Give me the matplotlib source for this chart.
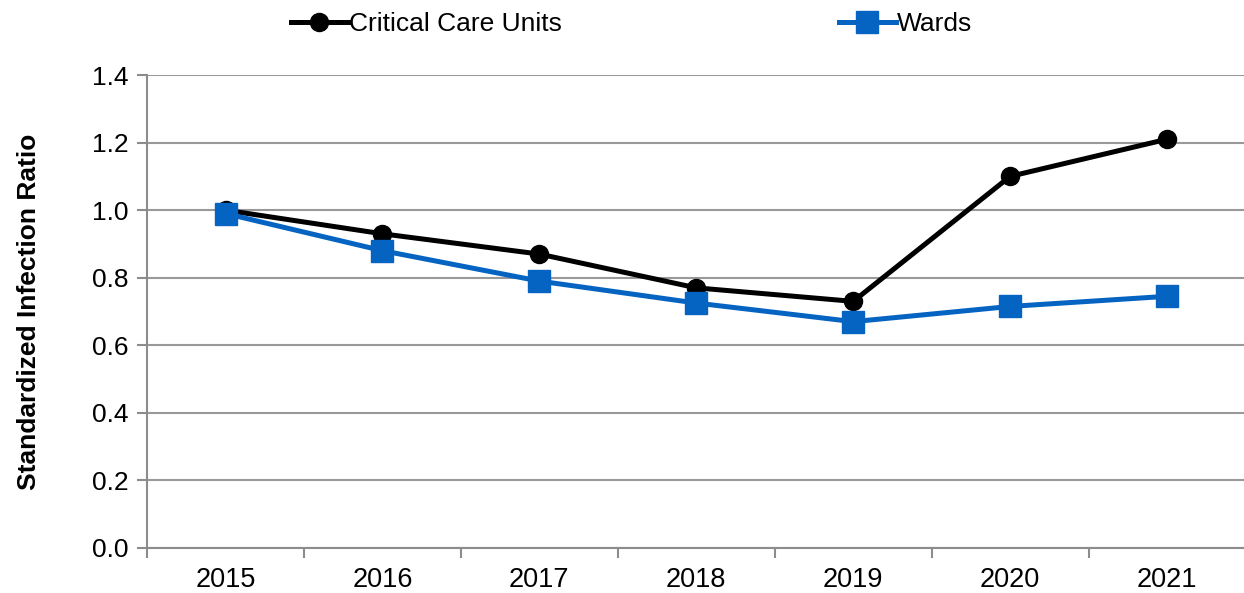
import matplotlib.pyplot as plt

plt.rcParams['font.family'] = ['Liberation Sans', 'DejaVu Sans']

years = ['2015', '2016', '2017', '2018', '2019', '2020', '2021']
critical_care = [1.00, 0.93, 0.87, 0.77, 0.73, 1.10, 1.21]
wards = [0.99, 0.88, 0.79, 0.725, 0.67, 0.715, 0.745]

fig = plt.figure(figsize=(12.44, 5.93), dpi=100)
ax = fig.add_axes([0.1182, 0.0759, 0.8818, 0.7976])

x = list(range(len(years)))
ax.plot(x, critical_care, color='black', lw=3.6, marker='o', ms=13,
        label='Critical Care Units', zorder=3)
ax.plot(x, wards, color='#0563C1', lw=3.6, marker='s', ms=15.5,
        label='Wards', zorder=3)

ax.set_xlim(-0.5, 6.49)
ax.set_ylim(0, 1.4)
ax.set_yticks([0, 0.2, 0.4, 0.6, 0.8, 1.0, 1.2, 1.4])
ax.set_yticklabels(['%.1f' % v for v in ax.get_yticks()])
ax.set_xticks(x)
ax.set_xticklabels(years)
# tick marks sit between the categories
ax.set_xticks([i + 0.5 for i in range(-1, 6)], minor=True)
ax.tick_params(axis='x', which='major', length=0, labelsize=19.5, pad=14)
ax.tick_params(axis='x', which='minor', length=7, color='#8c8c8c', width=1.5)
ax.tick_params(axis='y', length=7, color='#8c8c8c', width=1.5, labelsize=19, pad=6)

ax.grid(axis='y', color='#999999', lw=1.5)
ax.set_axisbelow(True)
for s in ['top', 'right']:
    ax.spines[s].set_visible(False)
for s in ['left', 'bottom']:
    ax.spines[s].set_color('#8c8c8c')
    ax.spines[s].set_linewidth(1.5)

ax.set_ylabel('Standardized Infection Ratio', fontsize=19, fontweight='bold')
ax.yaxis.set_label_coords(-0.0965, 0.5)

ax.legend(loc='center', bbox_to_anchor=(631.5 / 1244, 1 - 24 / 593),
          bbox_transform=fig.transFigure, ncol=2, frameon=False,
          fontsize=19, columnspacing=10.5, handlelength=2.16, handletextpad=0.05,
          borderaxespad=0, borderpad=0)

fig.savefig('out.png', dpi=100)
